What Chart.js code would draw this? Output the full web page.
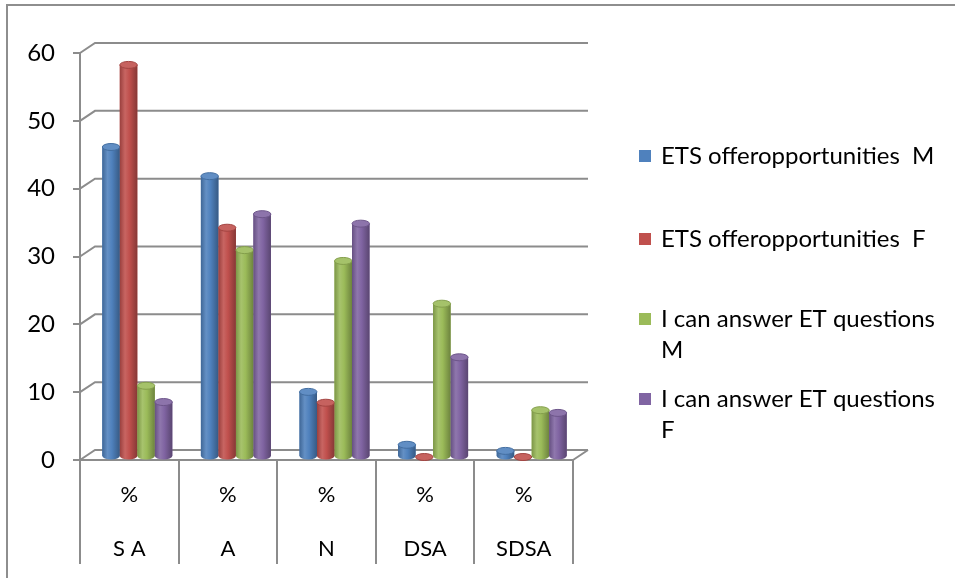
<!DOCTYPE html>
<html>
<head>
<meta charset="utf-8">
<script src="https://cdn.jsdelivr.net/npm/chart.js@4"></script>
<style>
  html, body { margin: 0; padding: 0; background: #fff; overflow: hidden; }
  #wrap { position: relative; width: 955px; height: 578px; }
  #frame { position: absolute; left: 6px; top: 4px; width: 1000px; height: 700px; border: 2px solid #8e8e8e; pointer-events: none; }
  canvas { position: absolute; left: 0; top: 0; }
</style>
</head>
<body>
<div id="wrap">
  <canvas id="chart" width="955" height="578"></canvas>
  <div id="frame"></div>
</div>
<script>
// data
const categories = ["S A", "A", "N", "DSA", "SDSA"];
const unitLabel = "%";
const seriesNames = [
  "ETS offeropportunities  M",
  "ETS offeropportunities  F",
  "I can answer ET questions M",
  "I can answer ET questions F"
];
const legendLines = [
  ["ETS offeropportunities  M"],
  ["ETS offeropportunities  F"],
  ["I can answer ET questions", "M"],
  ["I can answer ET questions", "F"]
];
const etsM = [45.7, 41.4, 9.6, 1.8, 0.9];
const etsF = [57.8, 33.8, 8.0, 0, 0];
const answerM = [10.5, 30.5, 28.9, 22.6, 6.9];
const answerF = [8.1, 35.8, 34.4, 14.7, 6.5];
const yTicks = [0, 10, 20, 30, 40, 50, 60];

const colors = ["#4F81BD", "#C0504D", "#9BBB59", "#8064A2"];
const gridColor = "#8c8c8c";
const FONT = "Lato";

// fake 3d depth of the walls, and where the bars sit in it
const depthX = 15, depthY = 10;
const barShiftX = 8, barShiftY = -3;

function shade(hex, amt) {
  const n = parseInt(hex.slice(1), 16);
  let r = n >> 16, g = (n >> 8) & 255, b = n & 255;
  const t = amt < 0 ? 0 : 255, p = Math.abs(amt);
  r = Math.round(r + (t - r) * p);
  g = Math.round(g + (t - g) * p);
  b = Math.round(b + (t - b) * p);
  return `rgb(${r},${g},${b})`;
}

const walls = {
  id: "walls",
  beforeDatasetsDraw(chart) {
    const { ctx, chartArea: a, scales: { y } } = chart;
    ctx.save();
    ctx.strokeStyle = gridColor;
    ctx.lineWidth = 2;
    ctx.beginPath();
    yTicks.forEach(v => {
      const py = y.getPixelForValue(v);
      ctx.moveTo(a.left, py);
      ctx.lineTo(a.left + depthX, py - depthY);
      ctx.lineTo(a.right + depthX, py - depthY);
    });
    const p0 = y.getPixelForValue(0);
    ctx.moveTo(a.right, p0);
    ctx.lineTo(a.right + depthX, p0 - depthY);
    ctx.stroke();
    ctx.restore();
    // bars are drawn a bit back into the box
    ctx.save();
    ctx.translate(barShiftX, barShiftY);
  },
  afterDatasetsDraw(chart) {
    const ctx = chart.ctx;
    chart.data.datasets.forEach((ds, i) => {
      const c = colors[i];
      chart.getDatasetMeta(i).data.forEach(el => {
        const { x, y, base, width } = el.getProps(["x", "y", "base", "width"], true);
        const rx = width / 2, ry = 3.5;
        const grad = ctx.createLinearGradient(x - rx, 0, x + rx, 0);
        grad.addColorStop(0, shade(c, -0.2));
        grad.addColorStop(0.3, shade(c, 0.12));
        grad.addColorStop(0.55, c);
        grad.addColorStop(1, shade(c, -0.3));
        if (base - y > 0.5) {
          ctx.beginPath();
          ctx.moveTo(x - rx, y);
          ctx.lineTo(x - rx, base);
          ctx.ellipse(x, base, rx, ry, 0, Math.PI, 0, true);
          ctx.lineTo(x + rx, y);
          ctx.closePath();
          ctx.fillStyle = grad;
          ctx.fill();
        }
        ctx.beginPath();
        ctx.ellipse(x, y, rx, ry, 0, 0, Math.PI * 2);
        ctx.fillStyle = shade(c, 0.1);
        ctx.fill();
        ctx.strokeStyle = shade(c, -0.15);
        ctx.lineWidth = 1;
        ctx.stroke();
      });
    });
    ctx.restore();
  }
};

const sideLegend = {
  id: "sideLegend",
  afterDraw(chart) {
    const ctx = chart.ctx;
    const boxX = 639, box = 12, textX = 661, lineH = 31;
    const rows = [156, 239, 319, 399];
    ctx.save();
    ctx.font = `24px ${FONT}`;
    ctx.textBaseline = "middle";
    legendLines.forEach((lines, i) => {
      ctx.fillStyle = colors[i];
      ctx.fillRect(boxX, rows[i] - box / 2, box, box);
      ctx.fillStyle = "#000";
      lines.forEach((t, k) => ctx.fillText(t, textX, rows[i] + k * lineH));
    });
    ctx.restore();
  }
};

const seriesValues = [etsM, etsF, answerM, answerF];

new Chart(document.getElementById("chart"), {
  type: "bar",
  data: {
    labels: categories.map(c => [unitLabel, "", c]),
    datasets: seriesValues.map((vals, i) => ({
      label: seriesNames[i],
      data: vals,
      backgroundColor: colors[i],
      barPercentage: 1,
      categoryPercentage: 0.71
    }))
  },
  options: {
    responsive: false,
    animation: false,
    devicePixelRatio: 1,
    layout: { padding: { left: 0, top: 53, right: 382, bottom: 0 } },
    plugins: {
      legend: { display: false },
      tooltip: { enabled: false }
    },
    scales: {
      x: {
        grid: { offset: true, drawOnChartArea: false, tickLength: 104, color: gridColor, lineWidth: 2 },
        border: { display: true, color: gridColor, width: 2 },
        ticks: {
          color: "#000",
          font: { family: FONT, size: 22, lineHeight: "27px" },
          padding: -83,
          maxRotation: 0,
          autoSkip: false
        },
        afterFit: s => { s.height = 118; }
      },
      y: {
        min: 0,
        max: 60,
        grid: { drawOnChartArea: false, tickLength: 7, color: gridColor, lineWidth: 2 },
        border: { display: true, color: gridColor, width: 2 },
        ticks: {
          stepSize: 10,
          color: "#000",
          font: { family: FONT, size: 24 },
          padding: 18
        },
        afterFit: s => { s.width = 80; }
      }
    }
  },
  plugins: [walls, sideLegend]
});
</script>
</body>
</html>
